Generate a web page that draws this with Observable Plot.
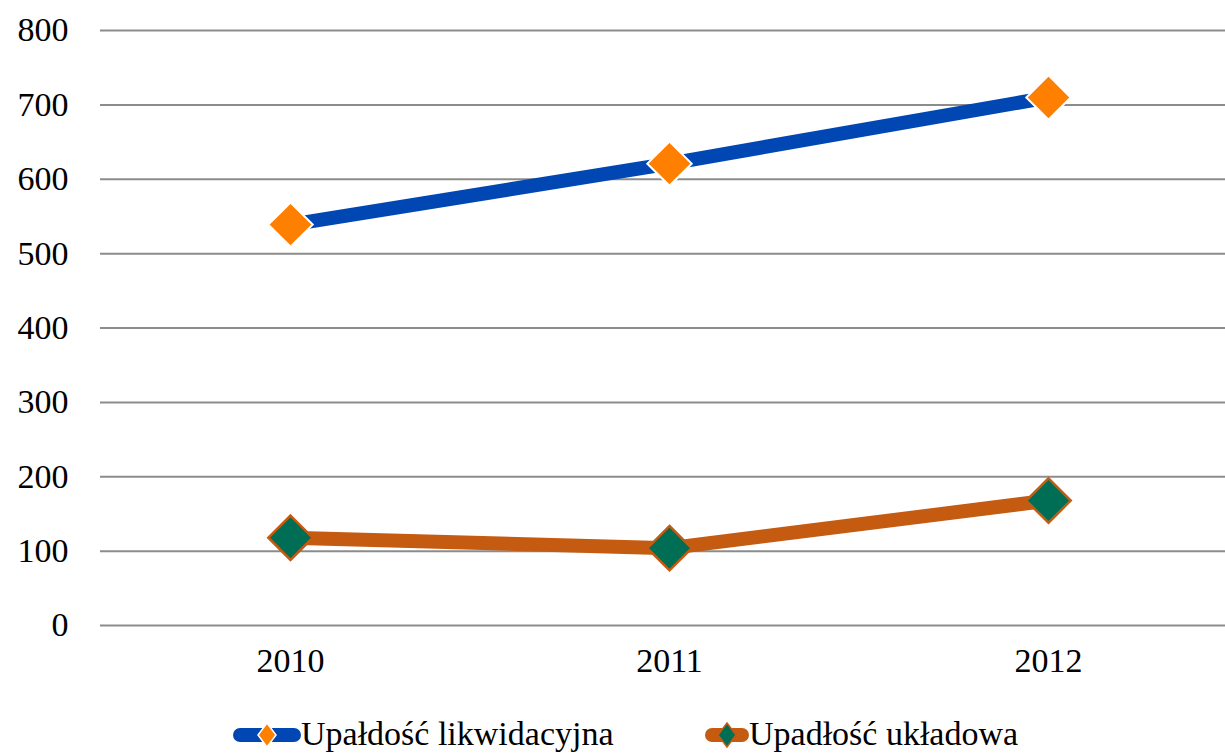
<!DOCTYPE html>
<html><head><meta charset="utf-8">
<script src="https://cdn.jsdelivr.net/npm/d3@7"></script>
<script src="https://cdn.jsdelivr.net/npm/@observablehq/plot@0.6"></script>
</head><body style="margin:0;padding:0;background:#fff;overflow:hidden;width:1225px;height:754px;font-family:'Liberation Serif'">
<div id="chart" style="position:relative;width:1225px;overflow:hidden;"></div>
<div id="legend" style="position:absolute;top:711px;left:0;width:1225px;height:46px;font-family:'Liberation Serif';font-size:34px;color:#000;"></div>
<script>
const years = ["2010","2011","2012"];
const likwidacyjna = [539, 621, 710];
const ukladowa = [118, 104, 168];
const seriesNames = ["Upałdość likwidacyjna","Upadłość układowa"];
const yTicks = [0,100,200,300,400,500,600,700,800];
const lineColors = ["#0047B3","#C55A11"];
const markerFill = ["#FF7F00","#006E55"];
const markerStroke = ["#FFFFFF","#C55A11"];

const rows = [];
years.forEach((y,i)=>{
  rows.push({year:y, value:likwidacyjna[i], s:0});
  rows.push({year:y, value:ukladowa[i], s:1});
});

const font = "Liberation Serif";
const fs = 34;
const plot = Plot.plot({
  width: 1237, height: 690,
  marginLeft: 100, marginRight: 0, marginTop: 30, marginBottom: 65,
  style: {fontFamily: font, fontSize: fs + "px", color:"#000", background:"#fff", maxWidth:"none"},
  x: {type:"point", domain: years, padding: 0.5, label: null},
  y: {domain:[0,800], label:null},
  marks: [
    Plot.ruleY(yTicks, {stroke:"#8c8c8c", strokeWidth:2}),
    Plot.axisY(yTicks, {tickSize:0, tickPadding:32, fontSize:fs, fill:"#000", label:null}),
    Plot.axisX(years, {tickSize:0, tickPadding:22, fontSize:fs, fill:"#000", label:null}),
    Plot.line(rows.filter(d=>d.s===0), {x:"year", y:"value", stroke:lineColors[0], strokeWidth:14, strokeLinecap:"butt"}),
    Plot.line(rows.filter(d=>d.s===1), {x:"year", y:"value", stroke:lineColors[1], strokeWidth:14, strokeLinecap:"butt"}),
    Plot.dot(rows.filter(d=>d.s===0), {x:"year", y:"value", symbol:"diamond2", r:20, fill:markerFill[0], stroke:markerStroke[0], strokeWidth:2}),
    Plot.dot(rows.filter(d=>d.s===1), {x:"year", y:"value", symbol:"diamond2", r:20, fill:markerFill[1], stroke:markerStroke[1], strokeWidth:2.5})
  ]
});
plot.style.maxWidth = "none";
document.getElementById("chart").appendChild(plot);

const legend = document.getElementById("legend");
const lefts = [233, 705];
seriesNames.forEach((name,i)=>{
  const item = document.createElement("div");
  item.style.cssText = `position:absolute;top:0;left:${lefts[i]}px;display:flex;align-items:center;height:46px;`;
  const w = i===0 ? 68 : 44;
  item.innerHTML = `<svg width="${w}" height="46" style="display:block">
    <line x1="7" x2="${w-7}" y1="24" y2="24" stroke="${lineColors[i]}" stroke-width="14" stroke-linecap="round"/>
    <path d="M${w/2},12 L${w/2+9},24 L${w/2},36 L${w/2-9},24 Z" fill="${markerFill[i]}" stroke="${markerStroke[i]}" stroke-width="1.5"/>
  </svg><span style="white-space:nowrap;line-height:46px;font-family:'Liberation Serif';font-size:34px">${name}</span>`;
  legend.appendChild(item);
});
</script>
</body></html>
